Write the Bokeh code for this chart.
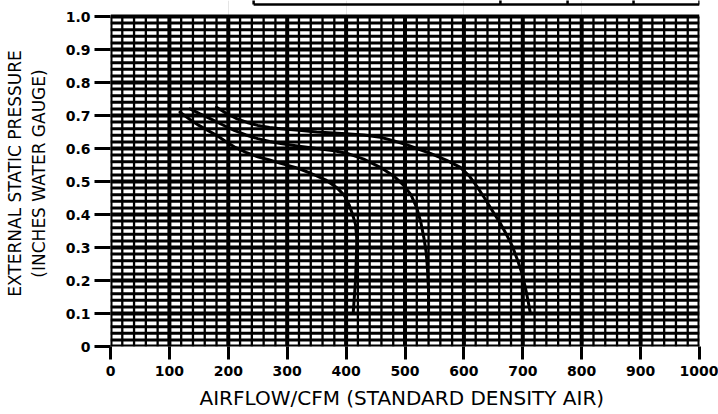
from bokeh.plotting import figure
from bokeh.models import Range1d, FixedTicker, LinearAxis
from bokeh.embed import file_html
from bokeh.resources import INLINE

# Fan performance curves: airflow (CFM) vs external static pressure (in. w.g.)
airflow_a = [118, 135, 150, 165, 180, 195, 210, 230, 250, 270, 289, 315, 340, 365, 385,
             397, 405, 411, 416, 418, 418, 417, 416, 414, 412]
pressure_a = [0.71, 0.688, 0.67, 0.655, 0.64, 0.622, 0.605, 0.588, 0.575, 0.565, 0.555,
              0.542, 0.525, 0.505, 0.48, 0.458, 0.43, 0.40, 0.37, 0.33, 0.30, 0.25, 0.20,
              0.15, 0.10]

airflow_b = [135, 152, 170, 190, 210, 230, 250, 270, 289, 320, 350, 380, 402, 430, 458,
             482, 497, 510, 520, 527, 532, 536, 538, 540, 540]
pressure_b = [0.72, 0.705, 0.69, 0.672, 0.655, 0.641, 0.63, 0.621, 0.615, 0.607, 0.60,
              0.593, 0.585, 0.568, 0.543, 0.515, 0.49, 0.46, 0.42, 0.375, 0.33, 0.285,
              0.24, 0.17, 0.10]

airflow_c = [180, 197, 215, 232, 250, 270, 289, 320, 350, 400, 430, 458, 480, 500, 520,
             543, 570, 594, 610, 622, 635, 648, 662, 672, 682, 691, 699, 706, 713]
pressure_c = [0.725, 0.706, 0.69, 0.679, 0.67, 0.664, 0.66, 0.655, 0.65, 0.645, 0.641,
              0.634, 0.624, 0.613, 0.60, 0.585, 0.565, 0.543, 0.515, 0.485, 0.45, 0.412,
              0.373, 0.34, 0.305, 0.262, 0.22, 0.165, 0.10]

x_ticks = [0, 100, 200, 300, 400, 500, 600, 700, 800, 900, 1000]
y_ticks = [0, 0.1, 0.2, 0.3, 0.4, 0.5, 0.6, 0.7, 0.8, 0.9, 1.0]
y_tick_labels = ["0", "0.1", "0.2", "0.3", "0.4", "0.5", "0.6", "0.7", "0.8", "0.9", "1.0"]

X_MAX = 1000
Y_MAX = 1.0
Y_TOP = 1.0485          # a little headroom above the grid for the header table
TABLE_BOTTOM = 1.036
table_edges = [243, 662, 776, 888, 1000]

p = figure(width=718, height=414, output_backend="svg", toolbar_location=None,
           x_range=Range1d(0, X_MAX), y_range=Range1d(0, Y_TOP),
           x_axis_location=None, y_axis_location=None,
           min_border_left=110, min_border_right=19, min_border_top=0,
           min_border_bottom=68, background_fill_color="white",
           border_fill_color="white")
p.outline_line_color = None

# chart-paper grid: fine lines every 20 CFM / 0.02 in., heavy lines every 100 / 0.1
minor_x = [v for v in range(0, X_MAX + 1, 20) if v % 100]
minor_y = [k / 100 for k in range(0, 101, 2) if k % 10]
major_x = list(range(0, X_MAX + 1, 100))
major_y = [k / 10 for k in range(0, 11)]

p.segment(x0=minor_x, y0=[0] * len(minor_x), x1=minor_x, y1=[Y_MAX] * len(minor_x),
          line_color="black", line_width=2.3)
p.segment(x0=[0] * len(minor_y), y0=minor_y, x1=[X_MAX] * len(minor_y), y1=minor_y,
          line_color="black", line_width=3)
p.segment(x0=major_x, y0=[0] * len(major_x), x1=major_x, y1=[Y_MAX] * len(major_x),
          line_color="black", line_width=4)
p.segment(x0=[0] * len(major_y), y0=major_y, x1=[X_MAX] * len(major_y), y1=major_y,
          line_color="black", line_width=4)

# bottom edge of the header table above the chart
p.segment(x0=table_edges, y0=[TABLE_BOTTOM] * len(table_edges),
          x1=table_edges, y1=[Y_TOP + 0.01] * len(table_edges),
          line_color="black", line_width=2.5)
p.segment(x0=[table_edges[0]], y0=[TABLE_BOTTOM], x1=[table_edges[-1]], y1=[TABLE_BOTTOM],
          line_color="black", line_width=2.5)

for xs, ys in ((airflow_a, pressure_a), (airflow_b, pressure_b), (airflow_c, pressure_c)):
    p.line(xs, ys, line_color="black", line_width=3, line_join="round", line_cap="round")


def style_axis(ax):
    ax.axis_line_color = None
    ax.minor_tick_line_color = None
    ax.major_tick_line_color = "black"
    ax.major_tick_line_width = 3
    ax.major_tick_in = 0
    ax.major_label_text_font = "DejaVu Sans"
    ax.major_label_text_font_style = "bold"
    ax.major_label_text_font_size = "14px"
    ax.major_label_text_color = "black"
    ax.axis_label_text_font = "DejaVu Sans"
    ax.axis_label_text_font_style = "normal"
    ax.axis_label_text_color = "black"


xaxis = LinearAxis(ticker=FixedTicker(ticks=x_ticks),
                   axis_label="AIRFLOW/CFM  (STANDARD DENSITY AIR)")
style_axis(xaxis)
xaxis.major_tick_out = 13
xaxis.major_label_standoff = 6
xaxis.axis_label_text_font_size = "20px"
xaxis.axis_label_standoff = 7
p.add_layout(xaxis, "below")

yaxis = LinearAxis(ticker=FixedTicker(ticks=y_ticks),
                   major_label_overrides={t: s for t, s in zip(y_ticks, y_tick_labels)},
                   axis_label="EXTERNAL STATIC PRESSURE\n(INCHES WATER GAUGE)")
style_axis(yaxis)
yaxis.major_tick_out = 16
yaxis.major_label_standoff = 4
yaxis.axis_label_text_font_size = "17px"
yaxis.axis_label_standoff = 14
p.add_layout(yaxis, "left")

open("out.html", "w").write(file_html(p, INLINE))
